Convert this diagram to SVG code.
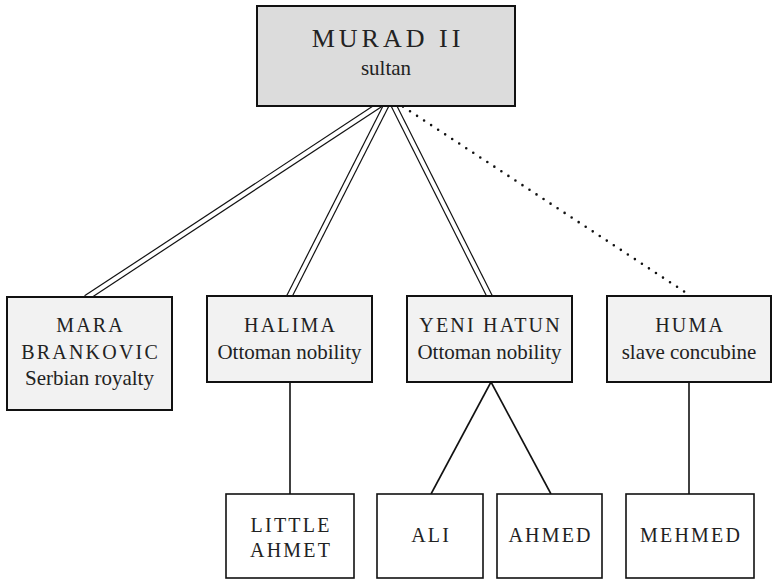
<svg xmlns="http://www.w3.org/2000/svg" width="773" height="579" viewBox="0 0 773 579">
  <style>
    .box { stroke: #111; stroke-width: 2; }
    .top { fill: #dcdcdc; }
    .mid { fill: #f2f2f2; }
    .leaf { fill: #ffffff; stroke-width: 1.6; }
    .caps { font-family: "Liberation Serif", "DejaVu Serif", serif; font-size: 20px; letter-spacing: 2.2px; fill: #222; text-anchor: middle; }
    .big { font-size: 26px; letter-spacing: 4px; }
    .sub { font-family: "Liberation Serif", "DejaVu Serif", serif; font-size: 21px; fill: #222; text-anchor: middle; }
    .dbl-out { fill: none; stroke: #111; stroke-width: 6.4; }
    .dbl-in { fill: none; stroke: #fff; stroke-width: 4; }
    .single { fill: none; stroke: #111; stroke-width: 1.6; }
    .dotted { fill: none; stroke: #111; stroke-width: 2.6; stroke-linecap: round; stroke-dasharray: 0 8.41; }
  </style>
  <rect width="773" height="579" fill="#ffffff"/>
  <g id="connectors">
    <g id="double-outer">
      <line class="dbl-out" x1="390" y1="98" x2="86" y2="298"/>
      <line class="dbl-out" x1="390" y1="98" x2="289" y2="297"/>
      <line class="dbl-out" x1="390" y1="98" x2="490" y2="297"/>
    </g>
    <g id="double-inner">
      <line class="dbl-in" x1="390" y1="98" x2="86" y2="298"/>
      <line class="dbl-in" x1="390" y1="98" x2="289" y2="297"/>
      <line class="dbl-in" x1="390" y1="98" x2="490" y2="297"/>
    </g>
    <line class="dotted" x1="403" y1="106.6" x2="691" y2="296"/>
    <line class="single" x1="290" y1="382" x2="290" y2="494"/>
    <line class="single" x1="491" y1="382" x2="431" y2="494"/>
    <line class="single" x1="491" y1="382" x2="551" y2="494"/>
    <line class="single" x1="689" y1="382" x2="689" y2="494"/>
  </g>
  <g id="murad">
    <rect class="box top" x="257" y="6" width="258" height="100"/>
    <text class="caps big" x="388" y="46.5">MURAD II</text>
    <text class="sub" x="386" y="75">sultan</text>
  </g>
  <g id="mara">
    <rect class="box mid" x="7" y="297" width="165" height="113"/>
    <text class="caps" x="90.6" y="332">MARA</text>
    <text class="caps" x="90.6" y="359">BRANKOVIC</text>
    <text class="sub" x="89.5" y="385">Serbian royalty</text>
  </g>
  <g id="halima">
    <rect class="box mid" x="207" y="296" width="165" height="86"/>
    <text class="caps" x="290.6" y="332">HALIMA</text>
    <text class="sub" x="289.5" y="359">Ottoman nobility</text>
  </g>
  <g id="yeni-hatun">
    <rect class="box mid" x="407" y="296" width="165" height="86"/>
    <text class="caps" x="490.6" y="332">YENI HATUN</text>
    <text class="sub" x="489.5" y="359">Ottoman nobility</text>
  </g>
  <g id="huma">
    <rect class="box mid" x="607" y="296" width="164" height="86"/>
    <text class="caps" x="690.1" y="332">HUMA</text>
    <text class="sub" x="689" y="359">slave concubine</text>
  </g>
  <g id="little-ahmet">
    <rect class="box leaf" x="226" y="494" width="128" height="84"/>
    <text class="caps" x="291.1" y="532">LITTLE</text>
    <text class="caps" x="291.1" y="557">AHMET</text>
  </g>
  <g id="ali">
    <rect class="box leaf" x="377" y="494" width="106" height="84"/>
    <text class="caps" x="431.1" y="542">ALI</text>
  </g>
  <g id="ahmed">
    <rect class="box leaf" x="497" y="494" width="105" height="84"/>
    <text class="caps" x="550.6" y="542">AHMED</text>
  </g>
  <g id="mehmed">
    <rect class="box leaf" x="626" y="494" width="128" height="84"/>
    <text class="caps" x="691.1" y="542">MEHMED</text>
  </g>
</svg>
